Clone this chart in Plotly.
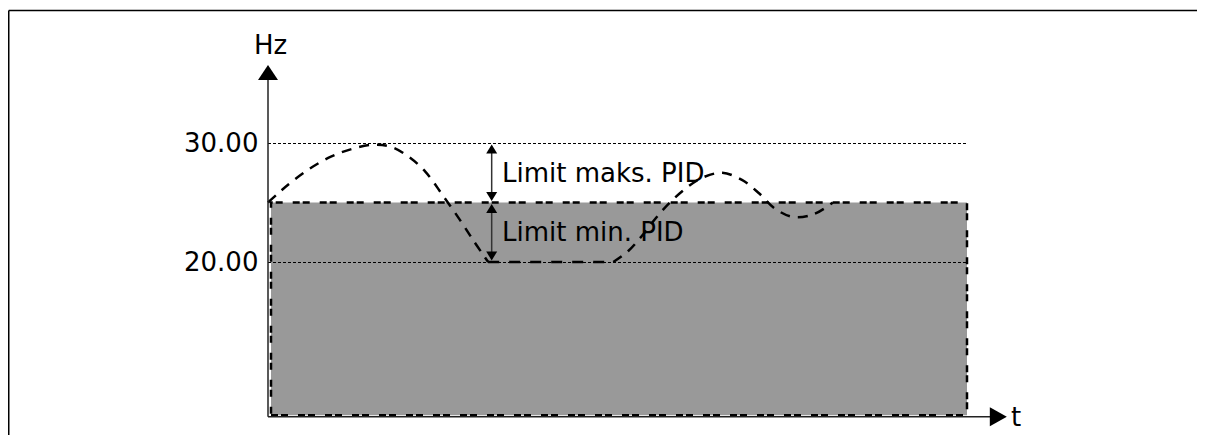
import plotly.graph_objects as go

# ---------------- data ----------------
tick_values = [20, 30]
tick_labels = ["20.00", "30.00"]
band_low = 20.0          # Limit min. PID line
band_high = 30.0         # Limit maks. PID line
setpoint = 25.0          # top of grey area
t_end = 10.0             # end of grey area / grid lines
axis_v_min = 7.0
axis_v_max = 36.55
axis_t_max = 10.57
arrow_t = 3.2

curve1_t = [0.0, 0.3, 0.6, 0.9, 1.2, 1.5, 1.75, 2.0, 2.25, 2.5, 2.75, 2.95, 3.15]
curve1_hz = [25.0, 26.55, 27.85, 28.85, 29.5, 29.85, 29.7, 28.9, 27.6, 25.6, 23.5, 21.7, 20.0]
flat_t = [3.15, 4.94]
flat_hz = [20.0, 20.0]
curve2_t = [4.94, 5.15, 5.35, 5.55, 5.75, 5.98, 6.22, 6.5, 6.78, 7.02, 7.25, 7.5, 7.8, 8.08]
curve2_hz = [20.0, 20.9, 22.2, 23.7, 25.0, 26.2, 27.1, 27.5, 26.9, 25.8, 24.5, 23.8, 24.0, 25.0]

label_upper = "Limit maks. PID"
label_lower = "Limit min. PID"
y_title = "Hz"
x_title = "t"

# ---------------- layout scales ----------------
W, H = 1205, 435
PX_T = 69.9     # pixels per t unit
PX_V = 11.9     # pixels per Hz
T0_PX = 260.0
V20_PY = 254.0

x_range = [(0 - T0_PX) / PX_T, (W - T0_PX) / PX_T]
y_range = [20 - (H - V20_PY) / PX_V, 20 + V20_PY / PX_V]


def dx(px):
    return px / PX_T


def dy(px):
    return px / PX_V


def tri_up(t, v, w, h):
    return (f"M {t - dx(w / 2)},{v - dy(h)} L {t + dx(w / 2)},{v - dy(h)} "
            f"L {t},{v} Z")


def tri_down(t, v, w, h):
    return (f"M {t - dx(w / 2)},{v + dy(h)} L {t + dx(w / 2)},{v + dy(h)} "
            f"L {t},{v} Z")


def tri_right(t, v, w, h):
    return (f"M {t - dx(w)},{v - dy(h / 2)} L {t - dx(w)},{v + dy(h / 2)} "
            f"L {t},{v} Z")


FONT = "DejaVu Sans"
FS = 26
fig = go.Figure()

shapes = []
# grey area
shapes.append(dict(type="rect", xref="x", yref="y", x0=dx(3), x1=t_end,
                   y0=axis_v_min + dy(1.5), y1=setpoint,
                   fillcolor="#999999", line=dict(width=0), layer="below"))
# dotted grid lines
for v in tick_values:
    shapes.append(dict(type="line", xref="x", yref="y", x0=0, x1=t_end,
                       y0=v - dy(0.5), y1=v - dy(0.5),
                       line=dict(color="black", width=1, dash="3px,2px"), layer="below"))
# dashed border of grey area
shapes.append(dict(type="rect", xref="x", yref="y", x0=dx(3), x1=t_end,
                   y0=axis_v_min + dy(1.5), y1=setpoint,
                   fillcolor="rgba(0,0,0,0)",
                   line=dict(color="black", width=2.5, dash="7px,3px,7px,10px"),
                   layer="below"))

# axes
shapes.append(dict(type="line", xref="x", yref="y", x0=0, x1=0,
                   y0=axis_v_min, y1=axis_v_max - dy(14),
                   line=dict(color="#222222", width=1.5), layer="above"))
shapes.append(dict(type="path", xref="x", yref="y", path=tri_up(0, axis_v_max, 20, 15),
                   fillcolor="black", line=dict(width=0), layer="above"))
shapes.append(dict(type="line", xref="x", yref="y", x0=0, x1=axis_t_max - dx(16),
                   y0=axis_v_min, y1=axis_v_min,
                   line=dict(color="#222222", width=1.5), layer="above"))
shapes.append(dict(type="path", xref="x", yref="y", path=tri_right(axis_t_max, axis_v_min, 17, 19),
                   fillcolor="black", line=dict(width=0), layer="above"))

# double arrows
for lo, hi in [(setpoint, band_high), (band_low, setpoint)]:
    shapes.append(dict(type="line", xref="x", yref="y", x0=arrow_t, x1=arrow_t,
                       y0=lo + dy(6), y1=hi - dy(6),
                       line=dict(color="#333333", width=1.5), layer="above"))
    shapes.append(dict(type="path", xref="x", yref="y", path=tri_up(arrow_t, hi - dy(1.5), 11, 9),
                       fillcolor="black", line=dict(width=0), layer="above"))
    shapes.append(dict(type="path", xref="x", yref="y", path=tri_down(arrow_t, lo + dy(1.5), 11, 9),
                       fillcolor="black", line=dict(width=0), layer="above"))

# outer frame (top and left edges)
shapes.append(dict(type="line", xref="paper", yref="paper", x0=0.75 / W, x1=1.0,
                   y0=1 - 2.5 / H, y1=1 - 2.5 / H,
                   line=dict(color="black", width=1.5)))
shapes.append(dict(type="line", xref="paper", yref="paper", x0=0.75 / W, x1=0.75 / W,
                   y0=1 - 2.5 / H, y1=0,
                   line=dict(color="black", width=1.5)))

# curve
fig.add_trace(go.Scatter(x=curve1_t, y=curve1_hz, mode="lines",
                         line=dict(color="black", width=2.5, dash="10px,8px", shape="spline",
                                   smoothing=1.0),
                         hoverinfo="skip", showlegend=False))
fig.add_trace(go.Scatter(x=flat_t, y=flat_hz, mode="lines",
                         line=dict(color="black", width=2.5, dash="11px,10px"),
                         hoverinfo="skip", showlegend=False))
fig.add_trace(go.Scatter(x=curve2_t, y=curve2_hz, mode="lines",
                         line=dict(color="black", width=2.5, dash="10px,8px", shape="spline",
                                   smoothing=1.0),
                         hoverinfo="skip", showlegend=False))

annotations = []
for v, lab in zip(tick_values, tick_labels):
    annotations.append(dict(x=0, y=v, xref="x", yref="y", text=lab, showarrow=False,
                            xanchor="right", yanchor="middle", xshift=-8,
                            font=dict(family=FONT, size=FS, color="black")))
annotations.append(dict(x=0, y=axis_v_max, xref="x", yref="y", text=y_title, showarrow=False,
                        xanchor="center", yanchor="bottom", xshift=2, yshift=3,
                        font=dict(family=FONT, size=FS, color="black")))
annotations.append(dict(x=axis_t_max, y=axis_v_min, xref="x", yref="y", text=x_title,
                        showarrow=False, xanchor="left", yanchor="middle", xshift=2,
                        font=dict(family=FONT, size=FS, color="black")))
annotations.append(dict(x=arrow_t, y=(setpoint + band_high) / 2, xref="x", yref="y",
                        text=label_upper, showarrow=False, xanchor="left", yanchor="middle",
                        xshift=8, font=dict(family=FONT, size=FS, color="black")))
annotations.append(dict(x=arrow_t, y=(band_low + setpoint) / 2, xref="x", yref="y",
                        text=label_lower, showarrow=False, xanchor="left", yanchor="middle",
                        xshift=8, font=dict(family=FONT, size=FS, color="black")))

fig.update_layout(
    width=W, height=H,
    margin=dict(l=0, r=0, t=0, b=0),
    paper_bgcolor="white", plot_bgcolor="white",
    xaxis=dict(range=x_range, visible=False, fixedrange=True),
    yaxis=dict(range=y_range, visible=False, fixedrange=True),
    shapes=shapes, annotations=annotations,
    showlegend=False,
)

fig.write_html("out.html")
